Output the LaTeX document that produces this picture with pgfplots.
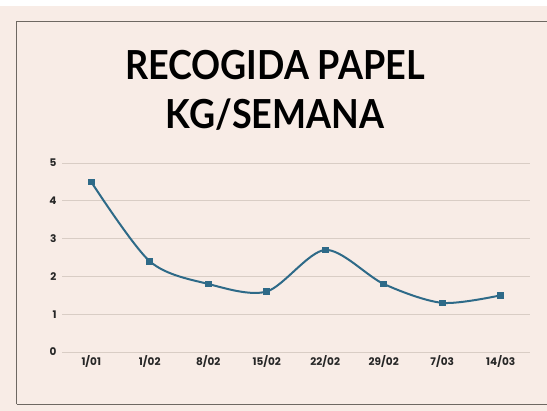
\documentclass[border=0pt]{standalone}
\usepackage{pgfplots}
\pgfplotsset{compat=1.18}
\usepackage{fontspec}
\setmainfont{Poppins}
\newfontfamily\titlefont[FakeStretch=0.9]{Lato}
\definecolor{bg}{HTML}{F8ECE6}
\definecolor{framec}{HTML}{6E6862}
\definecolor{gridc}{HTML}{D9CDC5}
\definecolor{linec}{HTML}{2E6A88}
\begin{document}
\begin{tikzpicture}[x=1pt,y=1pt]
\useasboundingbox (0,0) rectangle (547,411);
\fill[white] (0,0) rectangle (547,411);
\fill[bg] (0,0) rectangle (547,405);
\draw[framec, line width=1.6pt] (16.5,6.5) -- (16.5,389.5) -- (560,389.5);
\draw[framec, line width=1.6pt] (16.5,6.5) -- (560,6.5);
\node[font=\titlefont\bfseries\fontsize{40}{48}\selectfont, anchor=base] at (275,331) {RECOGIDA PAPEL};
\node[font=\titlefont\bfseries\fontsize{40}{48}\selectfont, anchor=base] at (275,282) {KG/SEMANA};
\begin{axis}[
  at={(62pt,59pt)}, anchor=south west,
  scale only axis, width=468pt, height=189pt,
  xmin=-0.5, xmax=7.5, ymin=0, ymax=5,
  axis line style={draw=none},
  major tick style={draw=none},
  ymajorgrids, grid style={gridc, line width=0.8pt},
  xtick={0,...,7},
  xticklabels={1/01,1/02,8/02,15/02,22/02,29/02,7/03,14/03},
  ytick={0,...,5},
  tick label style={font=\fontsize{10.5}{12}\selectfont\bfseries, text=black!85},
  yticklabel style={xshift=-2pt},
  /pgf/number format/assume math mode=true,
  clip=false,
]
\addplot[linec, line width=2pt, smooth, tension=0.5, mark=square*, mark size=2.3pt, mark options={solid}]
  coordinates {(0,4.5) (1,2.4) (2,1.8) (3,1.6) (4,2.7) (5,1.8) (6,1.3) (7,1.5)};
\end{axis}
\end{tikzpicture}
\end{document}
